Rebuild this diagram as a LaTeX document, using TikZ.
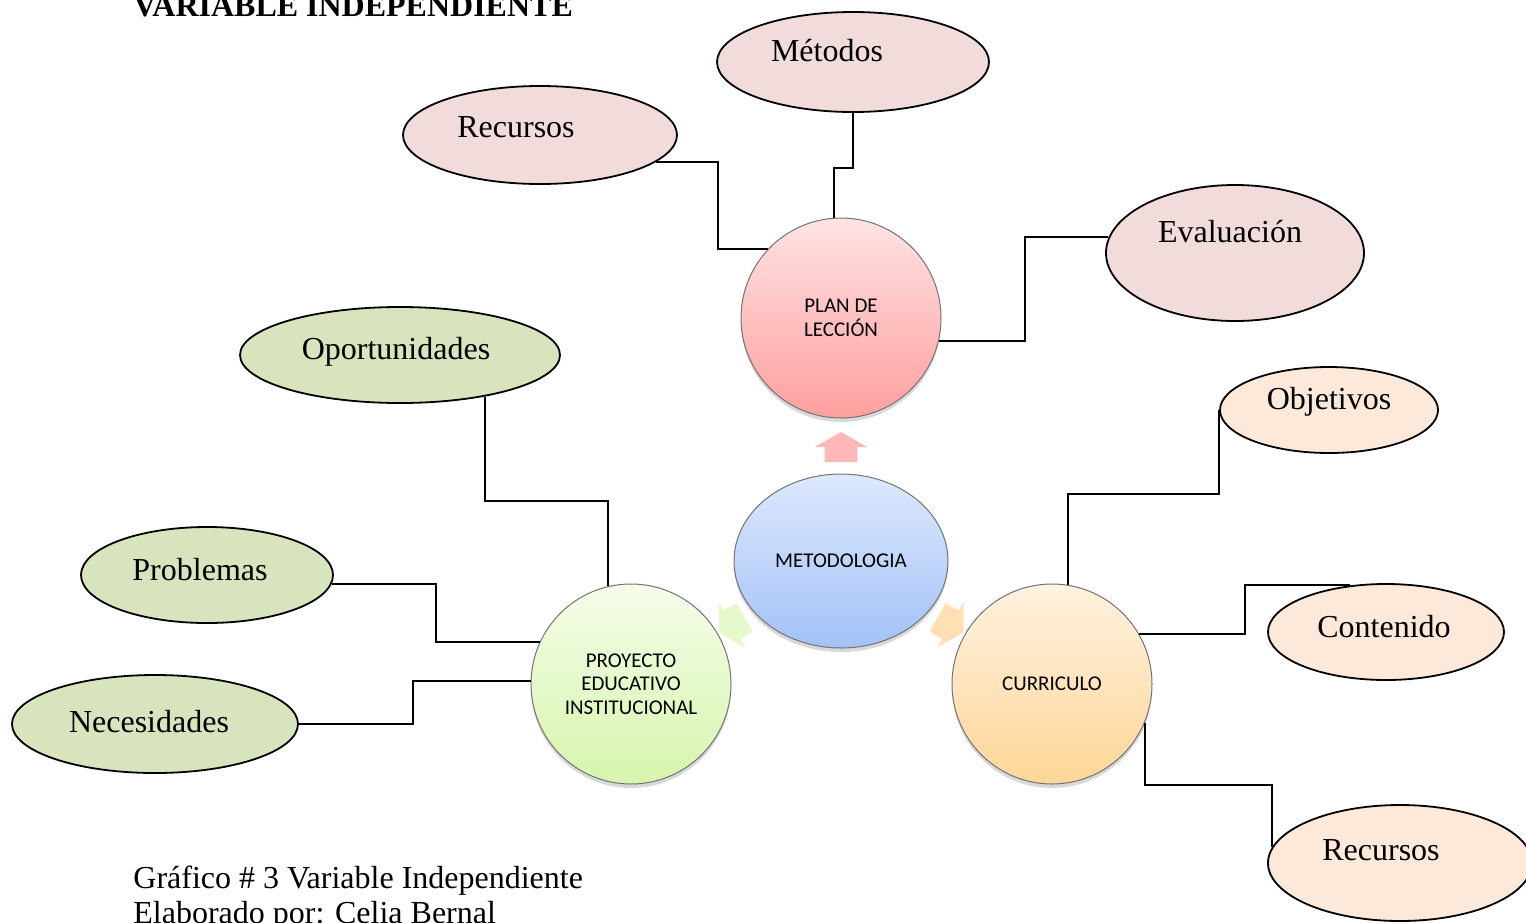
\documentclass[tikz,border=0pt]{standalone}
\usepackage{fontspec}
\setmainfont{Liberation Serif}
\newfontfamily\calibri{Carlito}
\usepackage{tikz}
\usetikzlibrary{calc}
\usetikzlibrary{shadows}
\usetikzlibrary{shapes.arrows}
\usetikzlibrary{shapes.geometric}
\usetikzlibrary{positioning}

\definecolor{pinkfill}{HTML}{F2DCDB}
\definecolor{greenfill}{HTML}{D7E4BD}
\definecolor{peachfill}{HTML}{FDE9D9}
\definecolor{planTop}{HTML}{FFE3E3}
\definecolor{planBot}{HTML}{FF9F9F}
\definecolor{metTop}{HTML}{DDE9FD}
\definecolor{metBot}{HTML}{A3C1F7}
\definecolor{peiTop}{HTML}{F5FDEA}
\definecolor{peiBot}{HTML}{D6F5AC}
\definecolor{curTop}{HTML}{FFF2E0}
\definecolor{curBot}{HTML}{FFD698}

\tikzset{
  hub/.style={circle, draw=black!55, line width=0.5pt, minimum size=100pt, inner sep=0pt,
    align=center, font=\calibri\fontsize{10.5}{11.75}\selectfont,
    drop shadow={shadow xshift=0pt, shadow yshift=-2pt, opacity=.3}},
  leaf/.style={ellipse, draw=black, line width=0.9pt, inner sep=0pt},
  lbl/.style={font=\fontsize{16}{19}\selectfont, inner sep=0pt},
  flow/.style={single arrow, draw=none, single arrow tip angle=120,
    minimum height=15pt, inner xsep=0pt, inner ysep=8pt, single arrow head extend=5pt},
  link/.style={draw=black, line width=1pt}
}

\begin{document}
\begin{tikzpicture}[x=0.5pt,y=-0.5pt]
\useasboundingbox (0,0) rectangle (1526,922);

% centre and the three branches
\node[hub, ellipse, minimum width=107pt, minimum height=87pt, top color=metTop, bottom color=metBot] (met) at (841,561) {METODOLOGIA};
\node[hub, top color=planTop, bottom color=planBot] (plan) at (841,318) {PLAN DE\\LECCIÓN};
\node[hub, top color=peiTop, bottom color=peiBot] (pei) at (631,684) {PROYECTO\\EDUCATIVO\\INSTITUCIONAL};
\node[hub, top color=curTop, bottom color=curBot] (cur) at (1052,684) {CURRICULO};

\node[flow, rotate=90, fill=planBot!75] (fa) at ($ (met) !.45! (plan) $) {};
\node[flow, rotate=-150, fill=peiBot!60] (fb) at ($ (met) !.5! (pei) $) {};
\node[flow, rotate=-30, fill=curBot!75] (fc) at ($ (met) !.5! (cur) $) {};

% leaves
\node[leaf, fill=pinkfill, minimum width=136pt, minimum height=50pt,
  label={[lbl, xshift=-13pt, yshift=5.5pt]center:Métodos}] (metod) at (853,62) {};
\node[leaf, fill=pinkfill, minimum width=137pt, minimum height=49pt,
  label={[lbl, xshift=-12pt, yshift=4pt]center:Recursos}] (recA) at (540,135) {};
\node[leaf, fill=pinkfill, minimum width=129pt, minimum height=68pt,
  label={[lbl, xshift=-2.5pt, yshift=10.5pt]center:Evaluación}] (eva) at (1235,253) {};

\node[leaf, fill=greenfill, minimum width=160pt, minimum height=48pt,
  label={[lbl, xshift=-2pt, yshift=1.5pt]center:Oportunidades}] (opo) at (400,355) {};
\node[leaf, fill=greenfill, minimum width=126pt, minimum height=48pt,
  label={[lbl, xshift=-3.5pt, yshift=2.5pt]center:Problemas}] (prob) at (207,575) {};
\node[leaf, fill=greenfill, minimum width=143pt, minimum height=49pt,
  label={[lbl, xshift=-3pt, yshift=1pt]center:Necesidades}] (nec) at (155,724) {};

\node[leaf, fill=peachfill, minimum width=109pt, minimum height=43pt,
  label={[lbl, yshift=4pt]center:Objetivos}] (obj) at (1329,410) {};
\node[leaf, fill=peachfill, minimum width=118pt, minimum height=48pt,
  label={[lbl, xshift=-1pt, yshift=2.5pt]center:Contenido}] (cont) at (1386,632) {};
\node[leaf, fill=peachfill, minimum width=132pt, minimum height=58pt,
  label={[lbl, xshift=-9.5pt, yshift=6.5pt]center:Recursos}] (recB) at (1400,863) {};

% connectors
\draw[link] (recA.-13) -- ++(62,0) |- (plan.137);
\draw[link] (metod.south) -- ++(0,55) -| (plan.94);
\draw[link] (eva.173) -- ++(-83,0) |- (plan.-13);
\draw[link] (opo.-26) -- ++(0,104) -| (pei.103);
\draw[link] (prob.-4) -- ++(104,0) |- (pei.155);
\draw[link] (nec.east) -- ++(114,0) |- (pei.178);
\draw[link] (obj.west) -- ++(0,84) -| (cur.81);
\draw[link] (cont.128) -- ++(-105,0) |- (cur.30);
\draw[link] (cur.-23) -- ++(0,62) -| (recB.173);

% title and caption
\node[lbl, anchor=base west, font=\bfseries\fontsize{16}{19}\selectfont] (title) at (133,16) {VARIABLE INDEPENDIENTE};
\node[lbl, anchor=base west] (cap1) at (133,888) {Gráfico \# 3 Variable Independiente};
\node[lbl, anchor=base west] (cap2) at (133,923) {Elaborado por: Celia Bernal};

\end{tikzpicture}
\end{document}
